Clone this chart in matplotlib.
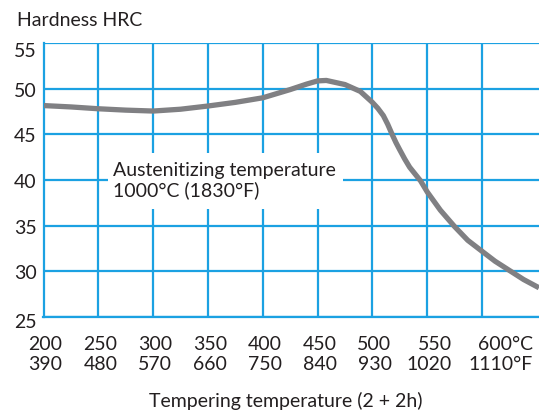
import matplotlib
matplotlib.use("Agg")
import matplotlib.pyplot as plt
import matplotlib.transforms as mtransforms
from matplotlib.patches import Rectangle

plt.rcParams['font.family'] = ['Lato', 'DejaVu Sans']

temp_c = [200, 225, 250, 275, 300, 325, 350, 375, 400, 425, 440, 450, 458, 475, 489,
          500, 505, 510, 514, 518, 521.5, 525, 529.5, 534, 544, 550, 562, 575, 587,
          600, 612, 625, 638, 652]
hardness = [48.15, 48.0, 47.8, 47.65, 47.55, 47.75, 48.1, 48.5, 49.0, 49.9, 50.5, 50.85,
            50.9, 50.45, 49.7, 48.5, 47.85, 47.05, 46.1, 45.0, 44.1, 43.3, 42.3, 41.4,
            39.9, 38.7, 36.7, 34.9, 33.4, 32.2, 31.1, 30.1, 29.1, 28.2]

xticks = [200, 250, 300, 350, 400, 450, 500, 550, 600]
xlabels_c = ["200", "250", "300", "350", "400", "450", "500", "550", "600°C"]
xlabels_f = ["390", "480", "570", "660", "750", "840", "930", "1020", "1110°F"]
yticks = [25, 30, 35, 40, 45, 50, 55]

grid_color = "#1ba1e2"
curve_color = "#808083"
text_color = "#231f20"
fs = 14

fig = plt.figure(figsize=(5.39, 4.14), dpi=100)
ax = fig.add_axes([43.5 / 539, 1 - 318 / 414, 1 - 43.5 / 539, (318 - 44) / 414])
ax.set_xlim(200, 652)
ax.set_ylim(25, 55)

for s in ["top", "right"]:
    ax.spines[s].set_visible(False)
for s in ["left", "bottom"]:
    ax.spines[s].set_color(grid_color)
    ax.spines[s].set_linewidth(1.6)

ax.set_xticks(xticks)
ax.set_yticks(yticks)
ax.grid(True, color=grid_color, linewidth=1.6)
ax.tick_params(length=0, labelsize=fs, colors=text_color)
ax.tick_params(axis='y', pad=5)
ax.set_yticklabels([str(v) for v in yticks])
ax.set_xticklabels([])

# small vertical nudges of extreme y labels, as in the reference
ylbls = ax.get_yticklabels()
ylbls[-1].set_transform(ylbls[-1].get_transform() +
                        mtransforms.ScaledTranslation(0, -6 / 100, fig.dpi_scale_trans))
ylbls[0].set_transform(ylbls[0].get_transform() +
                       mtransforms.ScaledTranslation(0, -3 / 100, fig.dpi_scale_trans))

for i, (t, c, f) in enumerate(zip(xticks, xlabels_c, xlabels_f)):
    lbl = c + "\n" + f
    if i == len(xticks) - 1:
        ax.annotate(lbl, xy=(t, 25), xycoords='data', xytext=(-9.5, -13),
                    textcoords='offset points', ha='left', va='top',
                    multialignment='right', fontsize=fs, color=text_color,
                    linespacing=1.2)
    else:
        ax.annotate(lbl, xy=(t, 25), xycoords='data', xytext=(1.5, -13),
                    textcoords='offset points', ha='center', va='top',
                    multialignment='right', fontsize=fs, color=text_color,
                    linespacing=1.2)

ax.plot(temp_c, hardness, color=curve_color, linewidth=3.8,
        solid_capstyle='butt', solid_joinstyle='round', zorder=5)

# white label box covering the grid
ax.add_patch(Rectangle((258.8, 36.8), 473.0 - 258.8, 42.96 - 36.8,
                       facecolor='white', edgecolor='none', zorder=3))
ax.text(263.5, 42.1, "Austenitizing temperature\n1000°C (1830°F)",
        fontsize=fs, color=text_color, ha='left', va='top', zorder=4,
        linespacing=1.15)

fig.text(17 / 539, 1 - 20 / 414, "Hardness HRC", fontsize=fs, color=text_color,
         ha='left', va='center')
fig.text(286 / 539, 1 - 401 / 414, "Tempering temperature (2 + 2h)", fontsize=fs,
         color=text_color, ha='center', va='center')

fig.savefig("out.png", dpi=100)
